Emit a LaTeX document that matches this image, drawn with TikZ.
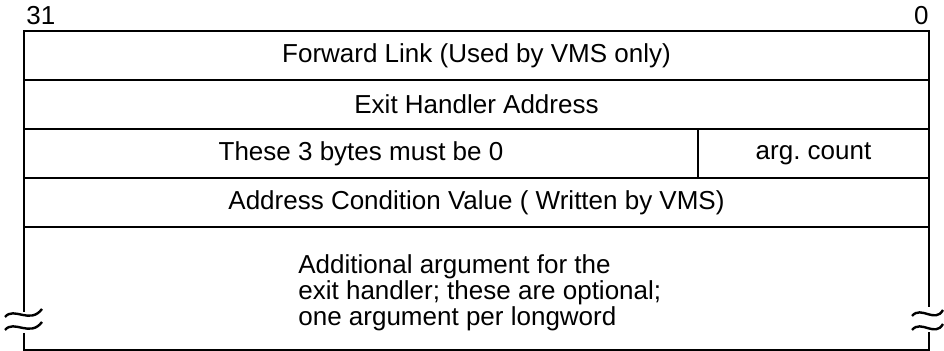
\documentclass[tikz,border=0pt]{standalone}
\usepackage{fontspec}
\setmainfont{Liberation Sans}
\usetikzlibrary{positioning}
\tikzstyle{field} = [rectangle, draw=black, line width=1.2pt, minimum height=24.5pt, inner sep=0pt, outer sep=0pt, text centered, font=\fontsize{13}{12}\selectfont]
\tikzstyle{bitno} = [inner sep=0pt, font=\fontsize{13}{12}\selectfont]
\tikzstyle{brk} = [line width=1.2pt]
\frenchspacing

\begin{document}
\begin{tikzpicture}[x=0.5pt,y=-0.5pt]
    \useasboundingbox (0,0) rectangle (944,351);

        \node[bitno, anchor=base west] (msb) at (26,25) {31};
        \node[bitno, anchor=base east] (lsb) at (929,25) {0};

        \node[field, minimum width=452.5pt, anchor=north west] (flink) at (24,31) {Forward Link (Used by VMS only)};
        \node[field, minimum width=452.5pt, below=0pt of flink] (handler) {Exit Handler Address};
        \node[field, minimum width=337pt, anchor=north west] (zeros) at (handler.south west) {These 3 bytes must be 0};
        \node[field, minimum width=115.5pt, anchor=north west] (argc) at (zeros.north east) {arg. count};
        \node[field, minimum width=452.5pt, anchor=north west] (cond) at (zeros.south west) {Address Condition Value ( Written by VMS)};

        \node[bitno, anchor=north west, align=left] (args) at (298,254) {Additional argument for the\\exit handler; these are optional;\\one argument per longword};

        % open bottom with break marks
        \draw[brk] (cond.south west) -- ++(0,85);
        \draw[brk] (24,333) -- (24,350) -- (929,350) -- (929,332);
        \draw[brk] (cond.south east) -- ++(0,80);
        \draw[brk] (5,317) .. controls (14,306) and (30,325) .. (42,309);
        \draw[brk] (5,330) .. controls (14,319) and (30,338) .. (42,322);
        \draw[brk] (912,316) .. controls (921,305) and (935,324) .. (943,310);
        \draw[brk] (912,330) .. controls (921,319) and (935,338) .. (943,324);
\end{tikzpicture}
\end{document}
